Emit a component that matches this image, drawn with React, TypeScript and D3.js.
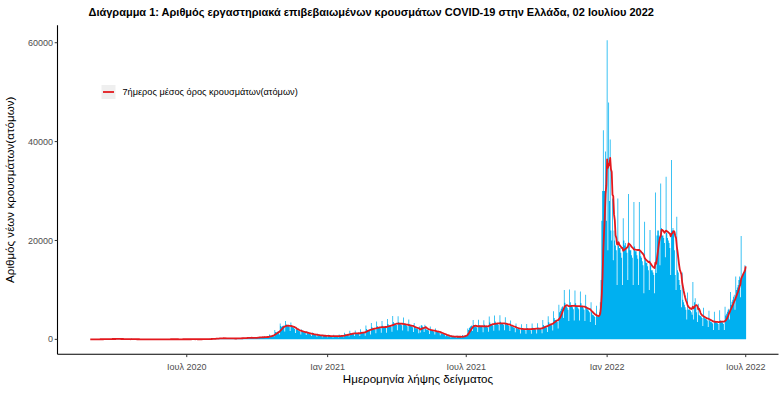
import React from "react";
import * as d3 from "d3";

// ---- Data (daily laboratory-confirmed cases by sample date) ----
// First day of data: Wed 26 Feb 2020. Rows after the first are Sat..Fri weeks.
const START_YEAR = 2020;
const START_MONTH = 1; // February (0-based)
const START_DAY = 26;

const cases2020 = [
  1, 2, 1,
  0, 0, 2, 0, 2, 22, 14,
  11, 21, 7, 44, 17, 10, 18,
  38, 62, 21, 55, 35, 31, 79,
  64, 94, 71, 48, 52, 79, 71,
  74, 102, 95, 61, 60, 98, 129,
  62, 58, 41, 60, 62, 56, 22,
  49, 25, 21, 31, 19, 20, 28,
  33, 17, 156, 12, 12, 24, 25,
  15, 8, 18, 21, 6, 8, 12,
  6, 10, 11, 6, 13, 10, 15,
  7, 16, 8, 4, 16, 4, 6,
  9, 3, 6, 14, 10, 4, 2,
  6, 10, 5, 3, 20, 13, 8,
  8, 5, 2, 16, 7, 18, 8,
  15, 9, 20, 21, 26, 19, 18,
  23, 34, 6, 14, 11, 12, 13,
  18, 10, 16, 7, 10, 24, 22,
  13, 16, 12, 18, 24, 17, 26,
  36, 18, 8, 25, 44, 25, 37,
  20, 9, 14, 26, 18, 19, 27,
  30, 14, 20, 33, 38, 36, 25,
  28, 33, 57, 43, 75, 40, 110,
  57, 75, 110, 82, 122, 124, 153,
  151, 203, 126, 150, 262, 254, 230,
  229, 173, 189, 269, 212, 211, 235,
  196, 150, 193, 161, 293, 204, 208,
  165, 191, 123, 155, 173, 201, 214,
  228, 210, 209, 209, 210, 233, 256,
  250, 325, 267, 203, 281, 231, 343,
  332, 367, 262, 278, 329, 340, 285,
  301, 266, 229, 300, 327, 402, 456,
  480, 400, 320, 400, 430, 470, 330,
  620, 500, 410, 470, 500, 520, 330,
  1000, 800, 700, 780, 850, 880, 560,
  1900, 1500, 1400, 1500, 1600, 1650, 1000,
  3200, 2700, 2500, 2700, 2800, 2700, 1600,
  3700, 3000, 2850, 2750, 2650, 2550, 1700,
  3400, 2800, 2500, 2400, 2300, 2100, 1300,
  2500, 2000, 1900, 1800, 1700, 1600, 1000,
  2000, 1600, 1500, 1450, 1400, 1300, 900,
  1650, 1300, 1200, 1150, 1100, 1000, 700,
  1400, 1050, 950, 950, 900, 850, 550,
  1150, 850, 800, 780, 760, 720, 400,
  1000, 760, 700, 720, 680, 650,
];

const cases2021 = [
  400,
  950, 700, 650, 650, 620, 600, 380,
  920, 690, 640, 620, 600, 580, 360,
  1000, 780, 730, 720, 700, 680, 420,
  1350, 1050, 950, 950, 920, 880, 560,
  1750, 1300, 1200, 1200, 1150, 1100, 700,
  1800, 1350, 1250, 1220, 1180, 1120, 700,
  2050, 1550, 1400, 1400, 1350, 1300, 750,
  2800, 2100, 1900, 1900, 1850, 1750, 1000,
  3300, 2450, 2250, 2200, 2100, 2000, 1250,
  3600, 2700, 2450, 2450, 2350, 2250, 1350,
  3700, 2750, 2500, 2500, 2400, 2300, 1350,
  4100, 3100, 2800, 2800, 2700, 2550, 1550,
  4700, 3500, 3200, 3200, 3050, 2900, 1850,
  4650, 3450, 3150, 3150, 3000, 2850, 1800,
  4400, 3250, 2950, 2950, 2800, 2650, 1650,
  4000, 3000, 2700, 2700, 2550, 2450, 1500,
  3300, 2500, 2250, 2250, 2150, 2050, 1250,
  2600, 1400, 2800, 2900, 2600, 2400, 1500,
  2950, 2200, 2000, 2000, 1900, 1800, 1100,
  2600, 1900, 1750, 1750, 1650, 1600, 1000,
  2200, 1650, 1500, 1500, 1450, 1350, 850,
  1600, 1200, 1080, 1070, 1020, 970, 620,
  950, 720, 650, 650, 620, 580, 380,
  780, 580, 530, 530, 500, 480, 310,
  760, 570, 520, 520, 500, 470, 300,
  900, 650, 700, 800, 850, 900, 660,
  2200, 1900, 2300, 2500, 2700, 2800, 1700,
  3900, 2900, 2650, 2650, 2550, 2400, 1500,
  3950, 2850, 2700, 2600, 2550, 2450, 1450,
  3850, 2950, 2650, 2650, 2500, 2400, 1550,
  4600, 3400, 3100, 3100, 2950, 2800, 1750,
  4800, 3600, 3250, 3250, 3100, 2950, 1800,
  4850, 3550, 3250, 3250, 3100, 2900, 1850,
  4450, 3300, 3000, 3000, 2850, 2700, 1700,
  3800, 2800, 2550, 2550, 2400, 2300, 1450,
  3200, 2350, 2150, 2150, 2050, 1950, 1200,
  3050, 2250, 2050, 2050, 1950, 1850, 1150,
  3100, 2300, 2050, 2100, 2000, 1850, 1150,
  3200, 2350, 2150, 2150, 2050, 1950, 1200,
  3250, 2400, 2200, 2200, 2100, 2000, 1250,
  3900, 2900, 2650, 2650, 2550, 2400, 1500,
  4650, 3450, 3150, 3150, 3000, 2850, 1800,
  5700, 4300, 3900, 3900, 3750, 3550, 2200,
  7000, 5500, 5800, 6200, 6500, 6700, 4300,
  10000, 7400, 6700, 6700, 6400, 6000, 3700,
  10100, 7500, 6800, 6800, 6500, 6100, 3800,
  9900, 7300, 6700, 6700, 6400, 6100, 3800,
  9700, 7300, 6600, 6600, 6300, 6000, 3700,
  9000, 6700, 6100, 6100, 5800, 5500, 3500,
  7500, 5500, 5000, 4900, 4700, 4500, 2900,
  6800, 4800, 4500, 4700, 5500, 7500, 12000,
  24000, 30000, 42300, 30000, 30000, 38000, 24000,
];

const cases2022 = [
  60500, 18000, 47900, 28000, 40400, 22000, 20000,
  28500, 16000, 22000, 20000, 19000, 18000, 11000,
  28500, 19000, 18500, 18500, 17500, 16500, 11000,
  24500, 20000, 19000, 19500, 18500, 17500, 12000,
  29400, 19000, 18000, 18000, 17000, 16500, 11000,
  27800, 18800, 17800, 17800, 17000, 16300, 11000,
  27800, 17800, 16800, 16500, 15800, 15000, 9300,
  23800, 16500, 15500, 15500, 14800, 14000, 10000,
  22100, 15000, 14000, 14000, 13500, 13000, 9300,
  29700, 13400, 21000, 22000, 22000, 21000, 15000,
  31500, 22500, 21000, 21000, 20500, 19500, 16600,
  32900, 21500, 20500, 20000, 19500, 18500, 13000,
  36300, 22000, 22500, 21500, 18000, 13000, 10000,
  24800, 14000, 13500, 12000, 11000, 10000, 6500,
  13500, 8000, 7500, 7000, 6500, 6000, 4000,
  9500, 6000, 6200, 6000, 5800, 5500, 5000,
  11600, 4000, 7500, 8300, 6500, 5500, 3500,
  7200, 5000, 4800, 4700, 4600, 4300, 2700,
  6400, 4400, 4200, 4100, 4000, 3800, 2500,
  5800, 3800, 3600, 3500, 3400, 3200, 1900,
  5600, 3700, 3500, 3400, 3300, 3100, 1900,
  5900, 3800, 3600, 3500, 3400, 3100, 1900,
  6600, 4800, 5200, 5600, 6000, 6200, 4000,
  9600, 7000, 7600, 8000, 8600, 9000, 6000,
  12700, 10000, 10500, 11000, 12000, 12700, 8500,
  20900, 12500, 13000, 13500, 14000, 15000, 14500,
];

const xTickDates = ["2020-07-01", "2021-01-01", "2021-07-01", "2022-01-01", "2022-07-01"];
const xTickLabels = ["Ιουλ 2020", "Ιαν 2021", "Ιουλ 2021", "Ιαν 2022", "Ιουλ 2022"];
const yTickValues = [0, 20000, 40000, 60000];

const TITLE =
  "Διάγραμμα 1: Αριθμός εργαστηριακά επιβεβαιωμένων κρουσμάτων COVID-19 στην Ελλάδα, 02 Ιουλίου 2022";
const Y_TITLE = "Αριθμός νέων κρουσμάτων(ατόμων)";
const X_TITLE = "Ημερομηνία λήψης δείγματος";
const LEGEND_LABEL = "7ήμερος μέσος όρος κρουσμάτων(ατόμων)";

// ---- Layout ----
const W = 784;
const H = 396;
const PANEL = { left: 57.5, right: 778.5, top: 25.3, bottom: 354.3 };
const FONT = "'Liberation Sans', Arial, Helvetica, sans-serif";
const BAR_COLOR = "#00B0F0";
const LINE_COLOR = "#E3191E";

function parseDate(s: string) {
  const [y, m, d] = s.split("-").map(Number);
  return new Date(y, m - 1, d);
}

export default function App() {
  const values = [...cases2020, ...cases2021, ...cases2022];
  const start = new Date(START_YEAR, START_MONTH, START_DAY);
  const dates = values.map((_, i) => d3.timeDay.offset(start, i));
  const first = dates[0];
  const last = dates[dates.length - 1];
  const span = +last - +first;

  const x = d3
    .scaleTime()
    .domain([new Date(+first - 0.05 * span), new Date(+last + 0.05 * span)])
    .range([PANEL.left, PANEL.right]);

  const maxV = d3.max(values) as number;
  const y = d3
    .scaleLinear()
    .domain([-0.05 * maxV, 1.05 * maxV])
    .range([PANEL.bottom, PANEL.top]);

  const ma = values.map((_, i) => d3.mean(values.slice(Math.max(0, i - 6), i + 1)) as number);

  const y0 = y(0);

  // all daily bars as one path (abutting bars, no seams)
  const barPath = d3.path();
  values.forEach((v, i) => {
    const xa = x(d3.timeHour.offset(dates[i], -12));
    const xb = x(d3.timeHour.offset(dates[i], 12));
    const top = y(v);
    if (y0 - top <= 0) return;
    barPath.rect(xa, top, xb - xa, y0 - top);
  });

  const line = d3
    .line<number>()
    .x((_, i) => x(dates[i]))
    .y((d) => y(d));

  return (
    <div style={{ position: "absolute", left: 0, top: 0 }}>
      <svg width={W} height={H} style={{ display: "block", background: "#fff" }} fontFamily={FONT}>
        <rect x={0} y={0} width={W} height={H} fill="#fff" />
        {/* title */}
        <text x={88.5} y={16} fontSize={11} fontWeight="bold" fill="#000">
          {TITLE}
        </text>

        {/* bars */}
        <path d={barPath.toString()} fill={BAR_COLOR} />

        {/* 7-day moving average */}
        <path d={line(ma) || ""} fill="none" stroke={LINE_COLOR} strokeWidth={1.8} strokeLinejoin="round" />

        {/* axes */}
        <line x1={PANEL.left} x2={PANEL.left} y1={PANEL.top} y2={PANEL.bottom} stroke="#000" strokeWidth={1.1} />
        <line x1={PANEL.left} x2={PANEL.right} y1={PANEL.bottom} y2={PANEL.bottom} stroke="#000" strokeWidth={1.1} />

        {yTickValues.map((t) => (
          <g key={t}>
            <line x1={PANEL.left - 2.8} x2={PANEL.left} y1={y(t)} y2={y(t)} stroke="#333" strokeWidth={1} />
            <text x={PANEL.left - 4.5} y={y(t)} dy="0.35em" textAnchor="end" fontSize={9} fill="#4D4D4D">
              {t}
            </text>
          </g>
        ))}

        {xTickDates.map((s, i) => {
          const xx = x(parseDate(s));
          return (
            <g key={s}>
              <line x1={xx} x2={xx} y1={PANEL.bottom} y2={PANEL.bottom + 2.8} stroke="#333" strokeWidth={1} />
              <text x={xx} y={369.5} textAnchor="middle" fontSize={9} fill="#4D4D4D">
                {xTickLabels[i]}
              </text>
            </g>
          );
        })}

        {/* axis titles */}
        <text x={(PANEL.left + PANEL.right) / 2} y={382.5} textAnchor="middle" fontSize={11.6} fill="#000">
          {X_TITLE}
        </text>
        <text
          transform={`translate(14,${(PANEL.top + PANEL.bottom) / 2}) rotate(-90)`}
          textAnchor="middle"
          fontSize={11.6}
          fill="#000"
        >
          {Y_TITLE}
        </text>

        {/* legend */}
        <rect x={101.5} y={85} width={14} height={14} fill="#EFEFEF" />
        <line x1={103} x2={114} y1={92} y2={92} stroke={LINE_COLOR} strokeWidth={1.8} />
        <text x={122.5} y={92} dy="0.35em" fontSize={9.2} fill="#000">
          {LEGEND_LABEL}
        </text>
      </svg>
    </div>
  );
}
